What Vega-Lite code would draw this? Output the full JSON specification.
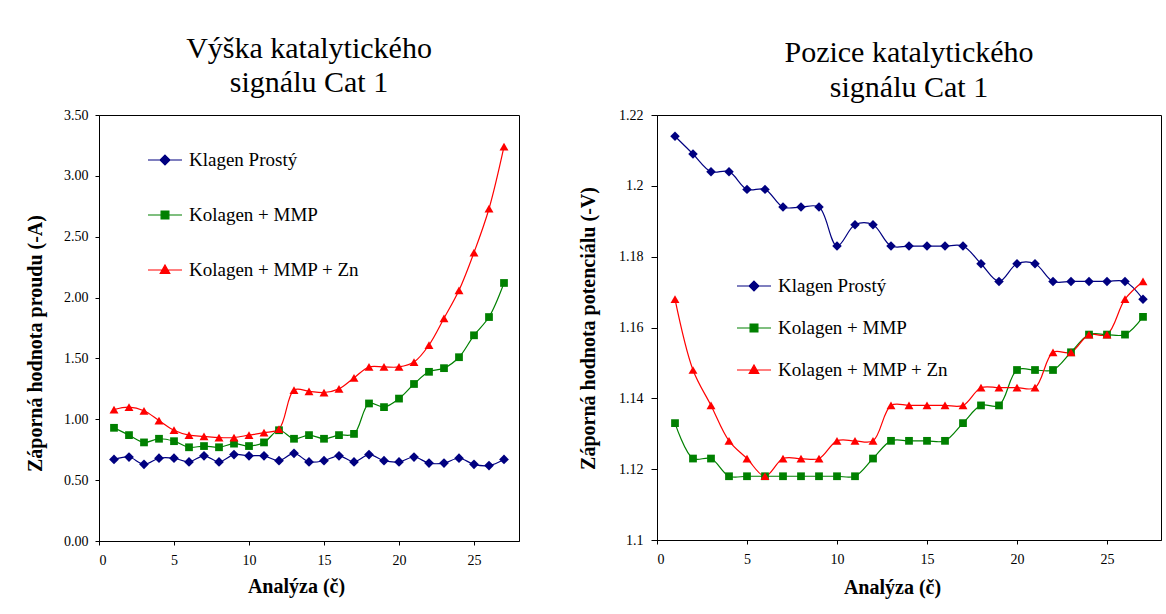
{
  "$schema": "https://vega.github.io/schema/vega-lite/v6.json",
  "background": "white",
  "padding": {"left": 24, "top": 33, "right": 3, "bottom": 5},
  "spacing": 138,
  "bounds": "flush",
  "datasets": {
    "vyska": [
      {"analyza":1,"serie":"Klagen Prostý","hodnota":0.67},{"analyza":2,"serie":"Klagen Prostý","hodnota":0.69},{"analyza":3,"serie":"Klagen Prostý","hodnota":0.63},{"analyza":4,"serie":"Klagen Prostý","hodnota":0.68},{"analyza":5,"serie":"Klagen Prostý","hodnota":0.68},{"analyza":6,"serie":"Klagen Prostý","hodnota":0.65},{"analyza":7,"serie":"Klagen Prostý","hodnota":0.70},{"analyza":8,"serie":"Klagen Prostý","hodnota":0.65},{"analyza":9,"serie":"Klagen Prostý","hodnota":0.71},{"analyza":10,"serie":"Klagen Prostý","hodnota":0.70},{"analyza":11,"serie":"Klagen Prostý","hodnota":0.70},{"analyza":12,"serie":"Klagen Prostý","hodnota":0.66},{"analyza":13,"serie":"Klagen Prostý","hodnota":0.72},{"analyza":14,"serie":"Klagen Prostý","hodnota":0.65},{"analyza":15,"serie":"Klagen Prostý","hodnota":0.66},{"analyza":16,"serie":"Klagen Prostý","hodnota":0.70},{"analyza":17,"serie":"Klagen Prostý","hodnota":0.65},{"analyza":18,"serie":"Klagen Prostý","hodnota":0.71},{"analyza":19,"serie":"Klagen Prostý","hodnota":0.66},{"analyza":20,"serie":"Klagen Prostý","hodnota":0.65},{"analyza":21,"serie":"Klagen Prostý","hodnota":0.69},{"analyza":22,"serie":"Klagen Prostý","hodnota":0.64},{"analyza":23,"serie":"Klagen Prostý","hodnota":0.64},{"analyza":24,"serie":"Klagen Prostý","hodnota":0.68},{"analyza":25,"serie":"Klagen Prostý","hodnota":0.63},{"analyza":26,"serie":"Klagen Prostý","hodnota":0.62},{"analyza":27,"serie":"Klagen Prostý","hodnota":0.67},
      {"analyza":1,"serie":"Kolagen + MMP","hodnota":0.93},{"analyza":2,"serie":"Kolagen + MMP","hodnota":0.87},{"analyza":3,"serie":"Kolagen + MMP","hodnota":0.81},{"analyza":4,"serie":"Kolagen + MMP","hodnota":0.84},{"analyza":5,"serie":"Kolagen + MMP","hodnota":0.82},{"analyza":6,"serie":"Kolagen + MMP","hodnota":0.77},{"analyza":7,"serie":"Kolagen + MMP","hodnota":0.78},{"analyza":8,"serie":"Kolagen + MMP","hodnota":0.77},{"analyza":9,"serie":"Kolagen + MMP","hodnota":0.80},{"analyza":10,"serie":"Kolagen + MMP","hodnota":0.78},{"analyza":11,"serie":"Kolagen + MMP","hodnota":0.81},{"analyza":12,"serie":"Kolagen + MMP","hodnota":0.91},{"analyza":13,"serie":"Kolagen + MMP","hodnota":0.84},{"analyza":14,"serie":"Kolagen + MMP","hodnota":0.87},{"analyza":15,"serie":"Kolagen + MMP","hodnota":0.84},{"analyza":16,"serie":"Kolagen + MMP","hodnota":0.87},{"analyza":17,"serie":"Kolagen + MMP","hodnota":0.88},{"analyza":18,"serie":"Kolagen + MMP","hodnota":1.13},{"analyza":19,"serie":"Kolagen + MMP","hodnota":1.10},{"analyza":20,"serie":"Kolagen + MMP","hodnota":1.17},{"analyza":21,"serie":"Kolagen + MMP","hodnota":1.29},{"analyza":22,"serie":"Kolagen + MMP","hodnota":1.39},{"analyza":23,"serie":"Kolagen + MMP","hodnota":1.42},{"analyza":24,"serie":"Kolagen + MMP","hodnota":1.51},{"analyza":25,"serie":"Kolagen + MMP","hodnota":1.69},{"analyza":26,"serie":"Kolagen + MMP","hodnota":1.84},{"analyza":27,"serie":"Kolagen + MMP","hodnota":2.12},
      {"analyza":1,"serie":"Kolagen + MMP + Zn","hodnota":1.08},{"analyza":2,"serie":"Kolagen + MMP + Zn","hodnota":1.10},{"analyza":3,"serie":"Kolagen + MMP + Zn","hodnota":1.07},{"analyza":4,"serie":"Kolagen + MMP + Zn","hodnota":0.99},{"analyza":5,"serie":"Kolagen + MMP + Zn","hodnota":0.91},{"analyza":6,"serie":"Kolagen + MMP + Zn","hodnota":0.87},{"analyza":7,"serie":"Kolagen + MMP + Zn","hodnota":0.86},{"analyza":8,"serie":"Kolagen + MMP + Zn","hodnota":0.85},{"analyza":9,"serie":"Kolagen + MMP + Zn","hodnota":0.85},{"analyza":10,"serie":"Kolagen + MMP + Zn","hodnota":0.87},{"analyza":11,"serie":"Kolagen + MMP + Zn","hodnota":0.89},{"analyza":12,"serie":"Kolagen + MMP + Zn","hodnota":0.92},{"analyza":13,"serie":"Kolagen + MMP + Zn","hodnota":1.24},{"analyza":14,"serie":"Kolagen + MMP + Zn","hodnota":1.23},{"analyza":15,"serie":"Kolagen + MMP + Zn","hodnota":1.22},{"analyza":16,"serie":"Kolagen + MMP + Zn","hodnota":1.25},{"analyza":17,"serie":"Kolagen + MMP + Zn","hodnota":1.34},{"analyza":18,"serie":"Kolagen + MMP + Zn","hodnota":1.43},{"analyza":19,"serie":"Kolagen + MMP + Zn","hodnota":1.43},{"analyza":20,"serie":"Kolagen + MMP + Zn","hodnota":1.43},{"analyza":21,"serie":"Kolagen + MMP + Zn","hodnota":1.47},{"analyza":22,"serie":"Kolagen + MMP + Zn","hodnota":1.61},{"analyza":23,"serie":"Kolagen + MMP + Zn","hodnota":1.83},{"analyza":24,"serie":"Kolagen + MMP + Zn","hodnota":2.06},{"analyza":25,"serie":"Kolagen + MMP + Zn","hodnota":2.37},{"analyza":26,"serie":"Kolagen + MMP + Zn","hodnota":2.73},{"analyza":27,"serie":"Kolagen + MMP + Zn","hodnota":3.24}
    ],
    "pozice": [
      {"analyza":1,"serie":"Klagen Prostý","hodnota":1.214},{"analyza":2,"serie":"Klagen Prostý","hodnota":1.209},{"analyza":3,"serie":"Klagen Prostý","hodnota":1.204},{"analyza":4,"serie":"Klagen Prostý","hodnota":1.204},{"analyza":5,"serie":"Klagen Prostý","hodnota":1.199},{"analyza":6,"serie":"Klagen Prostý","hodnota":1.199},{"analyza":7,"serie":"Klagen Prostý","hodnota":1.194},{"analyza":8,"serie":"Klagen Prostý","hodnota":1.194},{"analyza":9,"serie":"Klagen Prostý","hodnota":1.194},{"analyza":10,"serie":"Klagen Prostý","hodnota":1.183},{"analyza":11,"serie":"Klagen Prostý","hodnota":1.189},{"analyza":12,"serie":"Klagen Prostý","hodnota":1.189},{"analyza":13,"serie":"Klagen Prostý","hodnota":1.183},{"analyza":14,"serie":"Klagen Prostý","hodnota":1.183},{"analyza":15,"serie":"Klagen Prostý","hodnota":1.183},{"analyza":16,"serie":"Klagen Prostý","hodnota":1.183},{"analyza":17,"serie":"Klagen Prostý","hodnota":1.183},{"analyza":18,"serie":"Klagen Prostý","hodnota":1.178},{"analyza":19,"serie":"Klagen Prostý","hodnota":1.173},{"analyza":20,"serie":"Klagen Prostý","hodnota":1.178},{"analyza":21,"serie":"Klagen Prostý","hodnota":1.178},{"analyza":22,"serie":"Klagen Prostý","hodnota":1.173},{"analyza":23,"serie":"Klagen Prostý","hodnota":1.173},{"analyza":24,"serie":"Klagen Prostý","hodnota":1.173},{"analyza":25,"serie":"Klagen Prostý","hodnota":1.173},{"analyza":26,"serie":"Klagen Prostý","hodnota":1.173},{"analyza":27,"serie":"Klagen Prostý","hodnota":1.168},
      {"analyza":1,"serie":"Kolagen + MMP","hodnota":1.133},{"analyza":2,"serie":"Kolagen + MMP","hodnota":1.123},{"analyza":3,"serie":"Kolagen + MMP","hodnota":1.123},{"analyza":4,"serie":"Kolagen + MMP","hodnota":1.118},{"analyza":5,"serie":"Kolagen + MMP","hodnota":1.118},{"analyza":6,"serie":"Kolagen + MMP","hodnota":1.118},{"analyza":7,"serie":"Kolagen + MMP","hodnota":1.118},{"analyza":8,"serie":"Kolagen + MMP","hodnota":1.118},{"analyza":9,"serie":"Kolagen + MMP","hodnota":1.118},{"analyza":10,"serie":"Kolagen + MMP","hodnota":1.118},{"analyza":11,"serie":"Kolagen + MMP","hodnota":1.118},{"analyza":12,"serie":"Kolagen + MMP","hodnota":1.123},{"analyza":13,"serie":"Kolagen + MMP","hodnota":1.128},{"analyza":14,"serie":"Kolagen + MMP","hodnota":1.128},{"analyza":15,"serie":"Kolagen + MMP","hodnota":1.128},{"analyza":16,"serie":"Kolagen + MMP","hodnota":1.128},{"analyza":17,"serie":"Kolagen + MMP","hodnota":1.133},{"analyza":18,"serie":"Kolagen + MMP","hodnota":1.138},{"analyza":19,"serie":"Kolagen + MMP","hodnota":1.138},{"analyza":20,"serie":"Kolagen + MMP","hodnota":1.148},{"analyza":21,"serie":"Kolagen + MMP","hodnota":1.148},{"analyza":22,"serie":"Kolagen + MMP","hodnota":1.148},{"analyza":23,"serie":"Kolagen + MMP","hodnota":1.153},{"analyza":24,"serie":"Kolagen + MMP","hodnota":1.158},{"analyza":25,"serie":"Kolagen + MMP","hodnota":1.158},{"analyza":26,"serie":"Kolagen + MMP","hodnota":1.158},{"analyza":27,"serie":"Kolagen + MMP","hodnota":1.163},
      {"analyza":1,"serie":"Kolagen + MMP + Zn","hodnota":1.168},{"analyza":2,"serie":"Kolagen + MMP + Zn","hodnota":1.148},{"analyza":3,"serie":"Kolagen + MMP + Zn","hodnota":1.138},{"analyza":4,"serie":"Kolagen + MMP + Zn","hodnota":1.128},{"analyza":5,"serie":"Kolagen + MMP + Zn","hodnota":1.123},{"analyza":6,"serie":"Kolagen + MMP + Zn","hodnota":1.118},{"analyza":7,"serie":"Kolagen + MMP + Zn","hodnota":1.123},{"analyza":8,"serie":"Kolagen + MMP + Zn","hodnota":1.123},{"analyza":9,"serie":"Kolagen + MMP + Zn","hodnota":1.123},{"analyza":10,"serie":"Kolagen + MMP + Zn","hodnota":1.128},{"analyza":11,"serie":"Kolagen + MMP + Zn","hodnota":1.128},{"analyza":12,"serie":"Kolagen + MMP + Zn","hodnota":1.128},{"analyza":13,"serie":"Kolagen + MMP + Zn","hodnota":1.138},{"analyza":14,"serie":"Kolagen + MMP + Zn","hodnota":1.138},{"analyza":15,"serie":"Kolagen + MMP + Zn","hodnota":1.138},{"analyza":16,"serie":"Kolagen + MMP + Zn","hodnota":1.138},{"analyza":17,"serie":"Kolagen + MMP + Zn","hodnota":1.138},{"analyza":18,"serie":"Kolagen + MMP + Zn","hodnota":1.143},{"analyza":19,"serie":"Kolagen + MMP + Zn","hodnota":1.143},{"analyza":20,"serie":"Kolagen + MMP + Zn","hodnota":1.143},{"analyza":21,"serie":"Kolagen + MMP + Zn","hodnota":1.143},{"analyza":22,"serie":"Kolagen + MMP + Zn","hodnota":1.153},{"analyza":23,"serie":"Kolagen + MMP + Zn","hodnota":1.153},{"analyza":24,"serie":"Kolagen + MMP + Zn","hodnota":1.158},{"analyza":25,"serie":"Kolagen + MMP + Zn","hodnota":1.158},{"analyza":26,"serie":"Kolagen + MMP + Zn","hodnota":1.168},{"analyza":27,"serie":"Kolagen + MMP + Zn","hodnota":1.173}
    ]
  },
  "resolve": {"scale": {"color": "independent"}, "legend": {"color": "independent"}},
  "hconcat": [
    {
      "width": 420,
      "height": 426,
      "data": {"name": "vyska"},
      "title": {"text": ["Výška katalytického", "signálu Cat 1"], "fontSize": 30, "lineHeight": 34, "offset": 10},
      "encoding": {
        "x": {"field": "analyza", "type": "quantitative", "scale": {"domain": [0, 28], "nice": false},
              "axis": {"values": [0, 5, 10, 15, 20, 25], "title": "Analýza (č)", "titleX": 197, "titleY": 45, "titleBaseline": "middle", "labelPadding": 8}},
        "y": {"field": "hodnota", "type": "quantitative", "scale": {"domain": [0, 3.5], "nice": false},
              "axis": {"values": [0, 0.5, 1, 1.5, 2, 2.5, 3, 3.5], "format": ".2f", "title": "Záporná hodnota proudu (-A)", "titleX": -64, "titleY": 228, "titleBaseline": "middle", "titleAngle": -90, "titleAlign": "center"}}
      },
      "layer": [
        {
          "mark": {"type": "line", "interpolate": "catmull-rom", "strokeWidth": 1.2},
          "encoding": {
            "color": {"field": "serie", "type": "nominal",
              "scale": {"domain": ["Klagen Prostý", "Kolagen + MMP", "Kolagen + MMP + Zn"], "range": ["#000080", "#008000", "#ff0000"]},
              "legend": {"orient": "none", "legendX": 48, "legendY": 27, "title": null, "padding": 0, "rowPadding": 27, "labelOffset": 6, "symbolSize": 1156,
                "labelFont": "Liberation Serif", "labelFontSize": 19, "labelColor": "black", "labelLimit": 400,
                "encode": {"symbols": {"update": {
                  "shape": {"signal": "datum.index === 0 ? 'M-1,0H1M0,-0.29L0.29,0L0,0.29L-0.29,0Z' : datum.index === 1 ? 'M-1,0H1M-0.23,-0.23H0.23V0.23H-0.23Z' : 'M-1,0H1M0,-0.29L0.28,0.2H-0.28Z'"},
                  "fill": {"signal": "datum.index === 0 ? '#000080' : datum.index === 1 ? '#008000' : '#ff0000'"},
                  "stroke": {"signal": "datum.index === 0 ? '#000080' : datum.index === 1 ? '#008000' : '#ff0000'"},
                  "strokeWidth": {"value": 1.2}, "opacity": {"value": 1}, "fillOpacity": {"value": 1}
                }}}}
            }
          }
        },
        {"transform": [{"filter": "datum.serie === 'Klagen Prostý'"}], "mark": {"type": "point", "shape": "diamond", "filled": true, "opacity": 1, "size": 95, "color": "#000080"}},
        {"transform": [{"filter": "datum.serie === 'Kolagen + MMP'"}], "mark": {"type": "point", "shape": "square", "filled": true, "opacity": 1, "size": 60, "color": "#008000"}},
        {"transform": [{"filter": "datum.serie === 'Kolagen + MMP + Zn'"}], "mark": {"type": "point", "shape": "triangle-up", "filled": true, "opacity": 1, "size": 80, "color": "#ff0000"}}
      ]
    },
    {
      "width": 504,
      "height": 425,
      "data": {"name": "pozice"},
      "title": {"text": ["Pozice katalytického", "signálu Cat 1"], "fontSize": 30, "lineHeight": 35, "offset": 5},
      "encoding": {
        "x": {"field": "analyza", "type": "quantitative", "scale": {"domain": [0, 28], "nice": false},
              "axis": {"values": [0, 5, 10, 15, 20, 25], "title": "Analýza (č)", "titleX": 235, "titleY": 47, "titleBaseline": "middle", "labelPadding": 8}},
        "y": {"field": "hodnota", "type": "quantitative", "scale": {"domain": [1.1, 1.22], "nice": false, "zero": false},
              "axis": {"values": [1.1, 1.12, 1.14, 1.16, 1.18, 1.2, 1.22], "format": ".2~f", "tickSize": 6, "labelPadding": 8, "title": "Záporná hodnota potenciálu (-V)", "titleX": -69, "titleY": 213, "titleBaseline": "middle", "titleAngle": -90, "titleAlign": "center"}}
      },
      "layer": [
        {
          "mark": {"type": "line", "interpolate": "catmull-rom", "strokeWidth": 1.2},
          "encoding": {
            "color": {"field": "serie", "type": "nominal",
              "scale": {"domain": ["Klagen Prostý", "Kolagen + MMP", "Kolagen + MMP + Zn"], "range": ["#000080", "#008000", "#ff0000"]},
              "legend": {"orient": "none", "legendX": 79, "legendY": 153, "title": null, "padding": 0, "rowPadding": 14, "labelOffset": 6, "symbolSize": 1156,
                "labelFont": "Liberation Serif", "labelFontSize": 19, "labelColor": "black", "labelLimit": 400,
                "encode": {"symbols": {"update": {
                  "shape": {"signal": "datum.index === 0 ? 'M-1,0H1M0,-0.29L0.29,0L0,0.29L-0.29,0Z' : datum.index === 1 ? 'M-1,0H1M-0.23,-0.23H0.23V0.23H-0.23Z' : 'M-1,0H1M0,-0.29L0.28,0.2H-0.28Z'"},
                  "fill": {"signal": "datum.index === 0 ? '#000080' : datum.index === 1 ? '#008000' : '#ff0000'"},
                  "stroke": {"signal": "datum.index === 0 ? '#000080' : datum.index === 1 ? '#008000' : '#ff0000'"},
                  "strokeWidth": {"value": 1.2}, "opacity": {"value": 1}, "fillOpacity": {"value": 1}
                }}}}
            }
          }
        },
        {"transform": [{"filter": "datum.serie === 'Klagen Prostý'"}], "mark": {"type": "point", "shape": "diamond", "filled": true, "opacity": 1, "size": 90, "color": "#000080"}},
        {"transform": [{"filter": "datum.serie === 'Kolagen + MMP'"}], "mark": {"type": "point", "shape": "square", "filled": true, "opacity": 1, "size": 60, "color": "#008000"}},
        {"transform": [{"filter": "datum.serie === 'Kolagen + MMP + Zn'"}], "mark": {"type": "point", "shape": "triangle-up", "filled": true, "opacity": 1, "size": 80, "color": "#ff0000"}}
      ]
    }
  ],
  "config": {
    "font": "Liberation Serif",
    "view": {"stroke": "black", "strokeWidth": 1},
    "title": {"font": "Liberation Serif", "fontWeight": "normal", "color": "black", "anchor": "middle"},
    "axis": {"grid": false, "domainColor": "black", "tickColor": "black", "labelColor": "black", "titleColor": "black",
             "labelFont": "Liberation Serif", "labelFontSize": 14, "titleFont": "Liberation Serif", "titleFontSize": 20, "titleFontWeight": "bold",
             "tickSize": 4, "labelPadding": 7, "domainWidth": 1, "tickWidth": 1}
  }
}
